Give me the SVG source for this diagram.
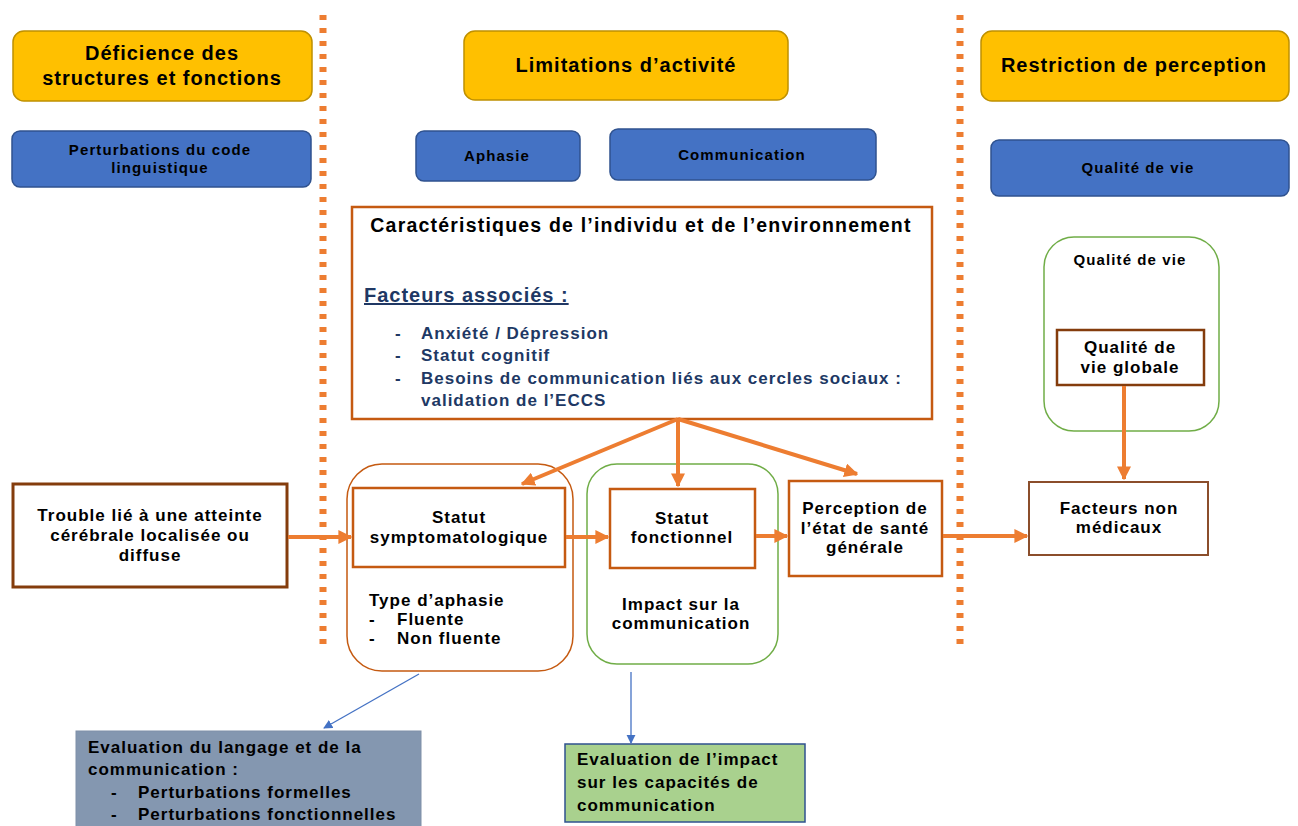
<svg xmlns="http://www.w3.org/2000/svg" width="1298" height="826" viewBox="0 0 1298 826">
<style>
text{font-family:"Liberation Sans",Arial,sans-serif;font-weight:bold;fill:#000}
.title{font-size:20px;letter-spacing:1px;text-anchor:middle}
.blue{fill:#4472C4;stroke:#2F528F;stroke-width:1.5}
.yel{fill:#FFC000;stroke:#BF9000;stroke-width:1.5}
.t14{font-size:15px;letter-spacing:1.1px;text-anchor:middle}
.t15{font-size:17px;letter-spacing:1px}
.c{text-anchor:middle}
.org{fill:#fff;stroke:#C55A11;stroke-width:2.5}
.brn{fill:#fff;stroke:#843C0C;stroke-width:3}
.grn{fill:none;stroke:#70AD47;stroke-width:1.5}
.fa{fill:#203864}
.sep{stroke:#ED7D31;stroke-width:7;stroke-dasharray:5 8}
.ar{stroke:#ED7D31;stroke-width:4;fill:none;marker-end:url(#ah)}
.bl{stroke:#4472C4;stroke-width:1.3;fill:none;marker-end:url(#bh)}
</style>
<defs>
<marker id="ah" viewBox="0 0 10 10" refX="9" refY="5" markerWidth="3.5" markerHeight="3.5" orient="auto" markerUnits="strokeWidth"><path d="M0,0 L10,5 L0,10 z" fill="#ED7D31"/></marker>
<marker id="bh" viewBox="0 0 10 10" refX="9" refY="5" markerWidth="7" markerHeight="7" orient="auto" markerUnits="strokeWidth"><path d="M0,0 L10,5 L0,10 z" fill="#4472C4"/></marker>
</defs>
<rect width="1298" height="826" fill="#fff"/>
<g id="separators">
<line class="sep" x1="323" y1="15" x2="323" y2="650"/>
<line class="sep" x1="960" y1="15" x2="960" y2="650"/>
</g>
<g id="h1"><rect class="yel" x="13" y="31" width="299" height="70" rx="11"/><text class="title" x="162" y="60">Déficience des</text><text class="title" x="162" y="85">structures et fonctions</text></g>
<g id="h2"><rect class="yel" x="464" y="31" width="324" height="69" rx="11"/><text class="title" x="626" y="72">Limitations d’activité</text></g>
<g id="h3"><rect class="yel" x="981" y="31" width="308" height="70" rx="11"/><text class="title" x="1134" y="72">Restriction de perception</text></g>
<g id="b1"><rect class="blue" x="12" y="131" width="299" height="56" rx="8"/><text class="t14" x="160" y="155">Perturbations du code</text><text class="t14" x="160" y="173">linguistique</text></g>
<g id="b2"><rect class="blue" x="416" y="131" width="164" height="50" rx="8"/><text class="t14" x="497" y="161">Aphasie</text></g>
<g id="b3"><rect class="blue" x="610" y="129" width="266" height="51" rx="8"/><text class="t14" x="742" y="160">Communication</text></g>
<g id="b4"><rect class="blue" x="991" y="140" width="298" height="56" rx="8"/><text class="t14" x="1138" y="173">Qualité de vie</text></g>
<g id="carac"><rect class="org" x="352" y="207" width="580" height="212"/>
<text x="641" y="232" class="c" style="font-size:19.5px;letter-spacing:1.2px">Caractéristiques de l’individu et de l’environnement</text>
<text x="364" y="302" class="fa" style="font-size:20px;letter-spacing:1px;text-decoration:underline">Facteurs associés :</text>
<text x="395" y="339" class="fa t15">-</text><text x="421" y="339" class="fa t15">Anxiété / Dépression</text>
<text x="395" y="361" class="fa t15">-</text><text x="421" y="361" class="fa t15">Statut cognitif</text>
<text x="395" y="384" class="fa t15">-</text><text x="421" y="384" class="fa t15">Besoins de communication liés aux cercles sociaux :</text>
<text x="421" y="406" class="fa t15">validation de l’ECCS</text>
</g>
<g id="trouble"><rect class="brn" x="13" y="484" width="274" height="103"/>
<text class="t15 c" x="150" y="521">Trouble lié à une atteinte</text><text class="t15 c" x="150" y="541">cérébrale localisée ou</text><text class="t15 c" x="150" y="561">diffuse</text></g>
<g id="symp"><rect class="org" x="347" y="464" width="226" height="207" rx="35" style="stroke-width:1.5"/>
<rect class="org" x="353" y="488" width="212" height="79"/>
<text class="t15 c" x="459" y="523">Statut</text><text class="t15 c" x="459" y="543">symptomatologique</text>
<text class="t15" x="369" y="606">Type d’aphasie</text>
<text class="t15" x="369" y="625">-</text><text class="t15" x="397" y="625">Fluente</text>
<text class="t15" x="369" y="644">-</text><text class="t15" x="397" y="644">Non fluente</text></g>
<g id="fonct"><rect class="grn" x="587" y="464" width="191" height="200" rx="30"/>
<rect class="org" x="610" y="489" width="145" height="79"/>
<text class="t15 c" x="682" y="524">Statut</text><text class="t15 c" x="682" y="543">fonctionnel</text>
<text class="t15 c" x="681" y="610">Impact sur la</text><text class="t15 c" x="681" y="629">communication</text></g>
<g id="percep"><rect class="org" x="789" y="481" width="153" height="95"/>
<text class="t15 c" x="865" y="514">Perception de</text><text class="t15 c" x="865" y="534">l’état de santé</text><text class="t15 c" x="865" y="553">générale</text></g>
<g id="fnm"><rect x="1029" y="482" width="179" height="73" fill="#fff" stroke="#8B4E2B" stroke-width="2"/>
<text class="t15 c" x="1119" y="514">Facteurs non</text><text class="t15 c" x="1119" y="533">médicaux</text></g>
<g id="qdv"><rect class="grn" x="1044" y="237" width="175" height="194" rx="30"/>
<text class="t14" x="1130" y="265">Qualité de vie</text>
<rect x="1057" y="330" width="147" height="55" fill="#fff" stroke="#843C0C" stroke-width="2.5"/>
<text class="t15 c" x="1130" y="353">Qualité de</text><text class="t15 c" x="1130" y="373">vie globale</text></g>
<g id="eval1"><rect x="76" y="731" width="345" height="100" fill="#8497B0" stroke="#7F8FA8" stroke-width="1"/>
<text class="t15" x="88" y="753">Evaluation du langage et de la</text><text class="t15" x="88" y="775">communication :</text>
<text class="t15" x="111" y="798">-</text><text class="t15" x="138" y="798">Perturbations formelles</text>
<text class="t15" x="111" y="820">-</text><text class="t15" x="138" y="820">Perturbations fonctionnelles</text></g>
<g id="eval2"><rect x="565" y="744" width="240" height="78" fill="#A9D18E" stroke="#2F528F" stroke-width="1.5"/>
<text class="t15" x="577" y="765">Evaluation de l’impact</text><text class="t15" x="577" y="788">sur les capacités de</text><text class="t15" x="577" y="811">communication</text></g>
<g id="connectors">
<line class="ar" x1="678" y1="419" x2="522" y2="484"/>
<line class="ar" x1="678" y1="419" x2="678" y2="486"/>
<line class="ar" x1="678" y1="419" x2="857" y2="474"/>
<line class="ar" x1="288" y1="537" x2="351" y2="537"/>
<line class="ar" x1="566" y1="537" x2="608" y2="537"/>
<line class="ar" x1="756" y1="536" x2="787" y2="536"/>
<line class="ar" x1="943" y1="536" x2="1027" y2="536"/>
<line class="ar" x1="1124" y1="386" x2="1124" y2="479"/>
<line class="bl" x1="419" y1="674" x2="324" y2="728"/>
<line class="bl" x1="631" y1="672" x2="631" y2="743"/>
</g>
</svg>
